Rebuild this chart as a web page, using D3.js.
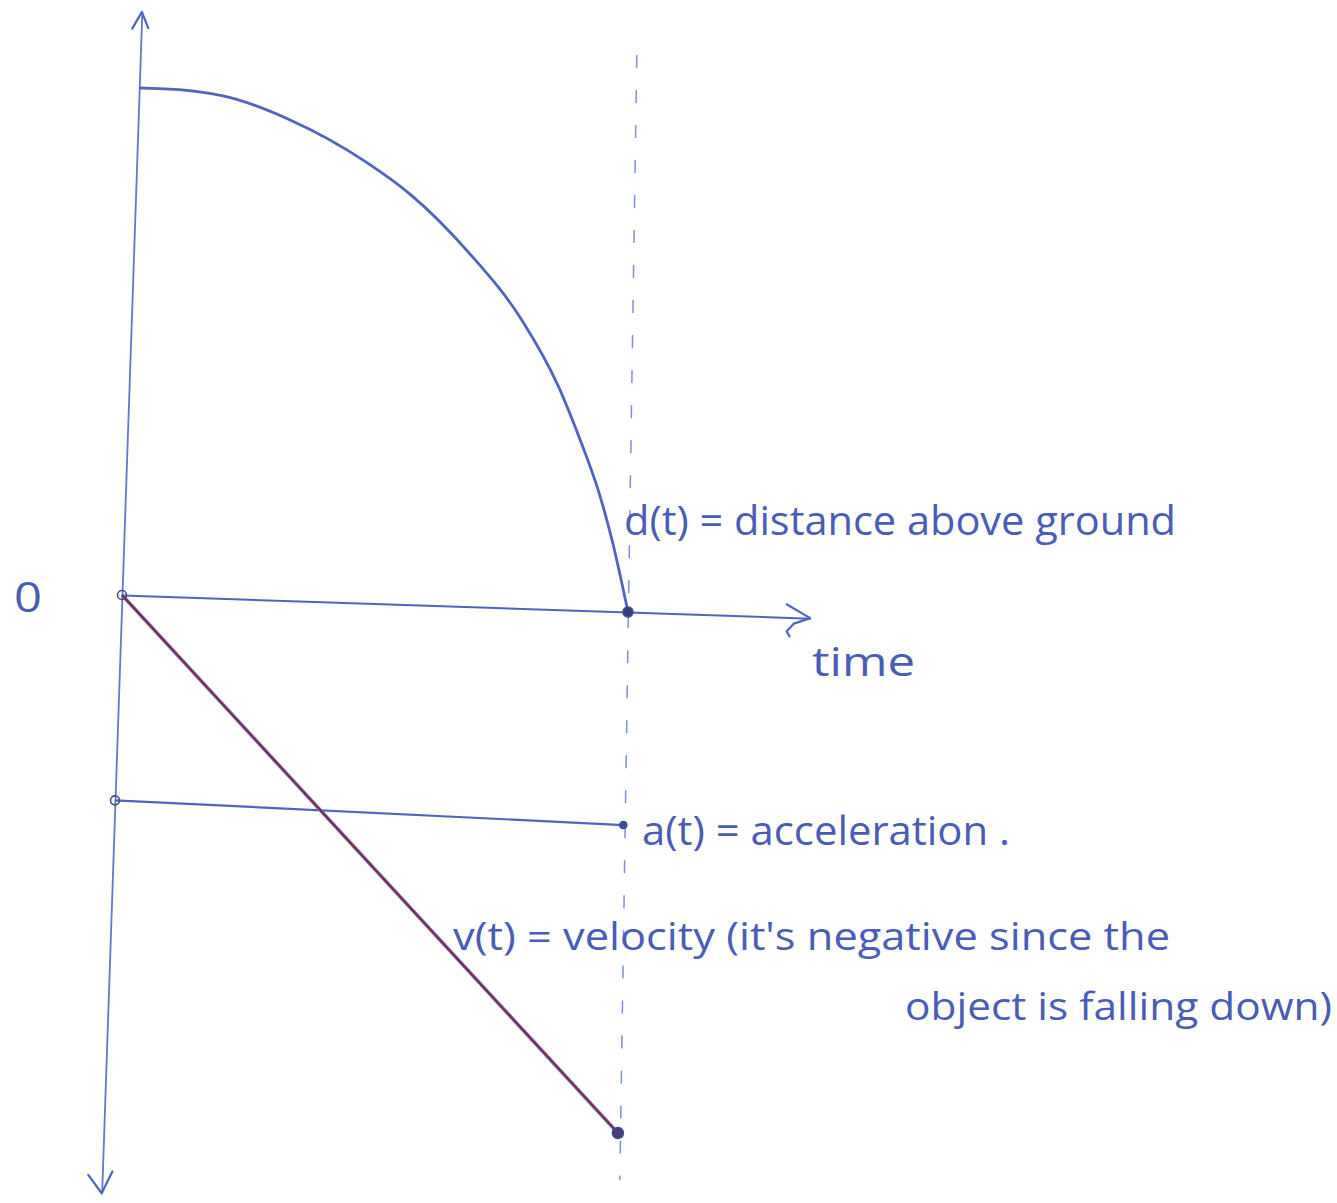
<!DOCTYPE html>
<html>
<head>
<meta charset="utf-8">
<script src="https://cdn.jsdelivr.net/npm/d3@7"></script>
<style>
  body { margin: 0; background: #fff; }
  text { font-family: "Open Sans", "DejaVu Sans", sans-serif; fill: #4a5cb6; }
</style>
</head>
<body>
<div id="wrapper"></div>
<script>
async function drawSketch() {

  // 1. Data (t = time, v = value)
  const distanceT = [0, 0.05, 0.166, 0.30, 0.453, 0.544, 0.662, 0.771, 0.847, 0.894, 0.933, 0.963, 1.0]
  const distanceV = [1.0, 1.0, 0.99, 0.947, 0.869, 0.807, 0.697, 0.568, 0.441, 0.336, 0.238, 0.143, 0]
  const accelT = [0, 1.005]
  const accelV = [-0.405, -0.42]
  const velocityT = [0, 1.015]
  const velocityV = [0, -1.027]
  const stopT = [0.98, 1.022]
  const stopV = [1.098, -1.12]
  const timeAxisT = [0, 1.36]
  const valueAxisV = [-1.18, 1.15]

  const distance = distanceT.map((t, i) => ({ t, v: distanceV[i] }))
  const accel = accelT.map((t, i) => ({ t, v: accelV[i] }))
  const velocity = velocityT.map((t, i) => ({ t, v: velocityV[i] }))
  const stop = stopT.map((t, i) => ({ t, v: stopV[i] }))

  // 2. Dimensions
  const dimensions = {
    width: 1337,
    height: 1203,
    origin: { x: 122, y: 595 },
    unitT: 506,
    unitV: 507,
    skewX: -0.034,  // the hand-drawn value axis leans right
    skewY: 0.0336,  // the time axis drops a little
  }

  // 3. Canvas
  const wrapper = d3.select("#wrapper")
    .append("svg")
      .attr("width", dimensions.width)
      .attr("height", dimensions.height)

  const bounds = wrapper.append("g")
      .attr("transform", `matrix(1, ${dimensions.skewY}, ${dimensions.skewX}, 1, ${
        dimensions.origin.x
      }, ${
        dimensions.origin.y
      })`)

  // 4. Scales
  const xScale = d3.scaleLinear()
    .domain([0, 1])
    .range([0, dimensions.unitT])

  const yScale = d3.scaleLinear()
    .domain([0, 1])
    .range([0, -dimensions.unitV])

  const xAccessor = d => d.t
  const yAccessor = d => d.v

  const blue = "#5064bf"

  // 5. Axes (domain lines only, like the pen strokes)
  const yAxisScale = yScale.copy()
    .domain(valueAxisV)
    .range(valueAxisV.map(yScale))
  const yAxis = bounds.append("g")
    .call(d3.axisLeft(yAxisScale).tickValues([]).tickSizeOuter(0))
  yAxis.select(".domain").attr("stroke", "#6378cc").attr("stroke-width", 1.8)

  const xAxisScale = xScale.copy()
    .domain(timeAxisT)
    .range(timeAxisT.map(xScale))
  const xAxis = bounds.append("g")
    .call(d3.axisBottom(xAxisScale).tickValues([]).tickSizeOuter(0))
  xAxis.select(".domain").attr("stroke", blue).attr("stroke-width", 2)

  // arrow heads
  const arrow = (x, y, pts) => bounds.append("path")
      .attr("d", d3.line()(pts.map(p => [x + p[0], y + p[1]])))
      .attr("fill", "none")
      .attr("stroke", blue)
      .attr("stroke-width", 2.2)
      .attr("stroke-linecap", "round")
      .attr("stroke-linejoin", "round")

  arrow(xScale(0), yScale(valueAxisV[1]), [[-9, 17], [0, 0], [7, 16]])
  arrow(xScale(0), yScale(valueAxisV[0]), [[-14, -18], [0, 0], [10, -22]])
  arrow(xScale(timeAxisT[1]), yScale(0), [[-24, -13], [0, 0], [-16, 6], [-23, 14], [-20, 19]])

  // 6. Series
  const lineGenerator = d3.line()
    .x(d => xScale(xAccessor(d)))
    .y(d => yScale(yAccessor(d)))

  // dashed stop line
  bounds.append("path")
      .attr("d", lineGenerator(stop))
      .attr("fill", "none")
      .attr("stroke", "#7e8fd4")
      .attr("stroke-width", 1.5)
      .attr("stroke-dasharray", "13 22")

  bounds.append("path")
      .attr("d", lineGenerator.curve(d3.curveMonotoneX)(distance))
      .attr("fill", "none")
      .attr("stroke", blue)
      .attr("stroke-width", 2.8)
  lineGenerator.curve(d3.curveLinear)

  bounds.append("path")
      .attr("d", lineGenerator(accel))
      .attr("fill", "none")
      .attr("stroke", blue)
      .attr("stroke-width", 2.2)

  bounds.append("path")
      .attr("d", lineGenerator(velocity))
      .attr("fill", "none")
      .attr("stroke", "#6a7fd4")
      .attr("stroke-width", 3.6)
  bounds.append("path")
      .attr("d", lineGenerator(velocity))
      .attr("fill", "none")
      .attr("stroke", "#8a2638")
      .attr("stroke-width", 2)

  // dots at the ends
  const dot = (d, r, fill) => bounds.append("circle")
      .attr("cx", xScale(xAccessor(d)))
      .attr("cy", yScale(yAccessor(d)))
      .attr("r", r)
      .attr("fill", fill)
      .attr("stroke", "#3d4c98")
      .attr("stroke-width", 1.6)

  dot(velocity[0], 4.5, "none")
  dot(distance[distance.length - 1], 5, "#34407e")
  dot(accel[0], 4.5, "none")
  dot(accel[1], 3.5, "#3d4c98")
  dot(velocity[1], 5.5, "#4a3a78")

  // 7. Labels
  const label = (x, y, size, str, len) => {
    const t = wrapper.append("text")
        .attr("x", x)
        .attr("y", y)
        .style("font-size", `${size}px`)
        .text(str)
    if (len) t.attr("textLength", len).attr("lengthAdjust", "spacingAndGlyphs")
    return t
  }

  label(14, 612, 42, "0", 28)
  label(624, 535, 40, "d(t) = distance above ground", 552)
  label(812, 676, 40, "time", 103)
  label(642, 845, 40, "a(t) = acceleration .", 368)
  label(453, 950, 38, "v(t) = velocity (it's negative since the", 717)
  label(905, 1020, 38, "object is falling down)", 427)
}
drawSketch()
</script>
</body>
</html>
